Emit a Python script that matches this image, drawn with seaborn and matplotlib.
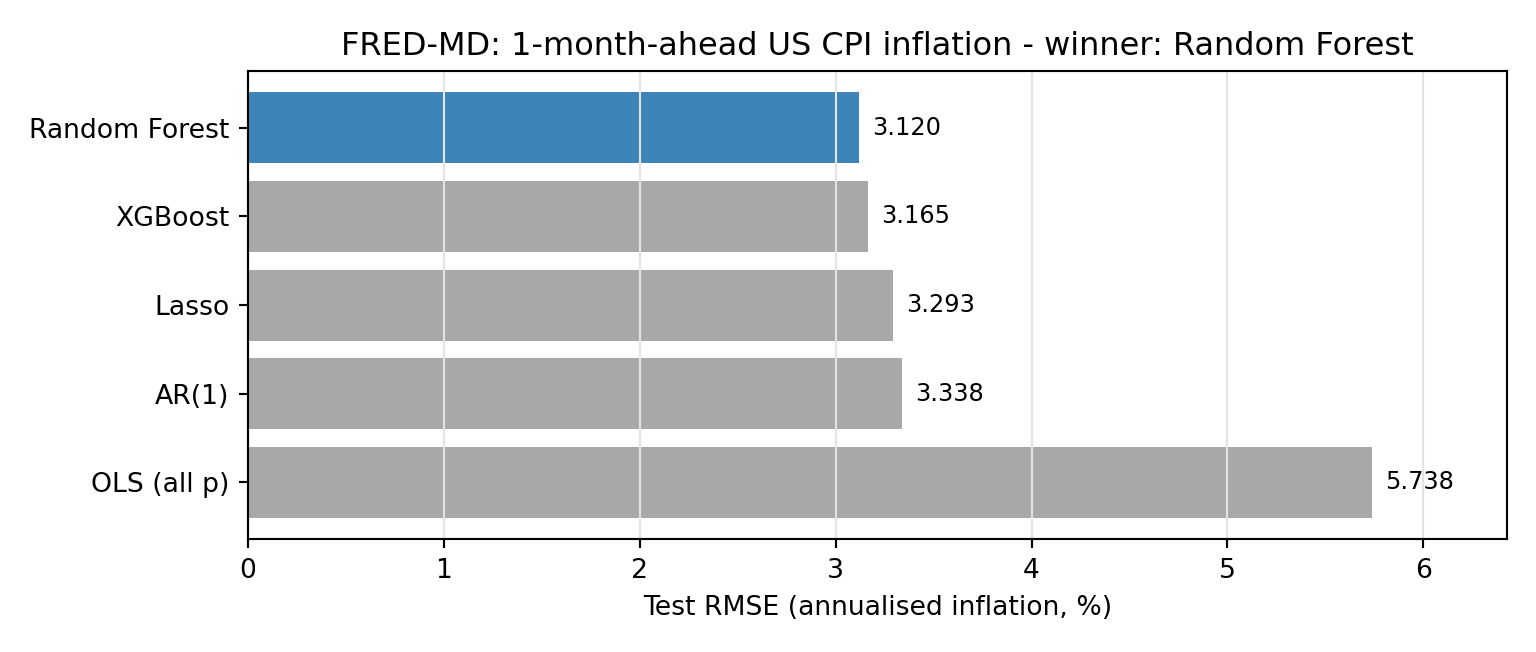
import matplotlib
matplotlib.use("Agg")
import matplotlib.pyplot as plt
import seaborn as sns
import pandas as pd

models = ["Random Forest", "XGBoost", "Lasso", "AR(1)", "OLS (all p)"]
rmse = [3.120, 3.165, 3.293, 3.338, 5.738]
winner = "Random Forest"

plt.rcParams['font.family'] = ['DejaVu Sans']

df = pd.DataFrame({"model": models, "rmse": rmse})
palette = {m: ("#3d85b8" if m == winner else "#a8a8a8") for m in models}

fig, ax = plt.subplots(figsize=(8.0, 3.396), dpi=192)
sns.barplot(data=df, y="model", x="rmse", hue="model", palette=palette,
            order=models, dodge=False, legend=False, width=0.8, ax=ax,
            saturation=1, linewidth=0)
for c in ax.containers:
    ax.bar_label(c, fmt="%.3f", padding=5, fontsize=9, color="black")

ax.set_xlim(0, max(rmse) * 1.12)
ax.set_ylim(4.64, -0.64)
ax.set_xlabel("Test RMSE (annualised inflation, %)", fontsize=10)
ax.set_ylabel("")
ax.set_title(f"FRED-MD: 1-month-ahead US CPI inflation - winner: {winner}", fontsize=12)
ax.tick_params(axis="both", labelsize=10, length=3.5, width=0.8, colors="black")
ax.xaxis.grid(True, color="#e3e3e3", linewidth=0.8)
ax.yaxis.grid(False)
ax.set_axisbelow(False)
for s in ax.spines.values():
    s.set_visible(True)
    s.set_color("black")
    s.set_linewidth(0.8)
    s.set_zorder(5)

fig.subplots_adjust(left=0.1615, right=0.981, top=0.891, bottom=0.173)
fig.savefig("out.png", dpi=192)
